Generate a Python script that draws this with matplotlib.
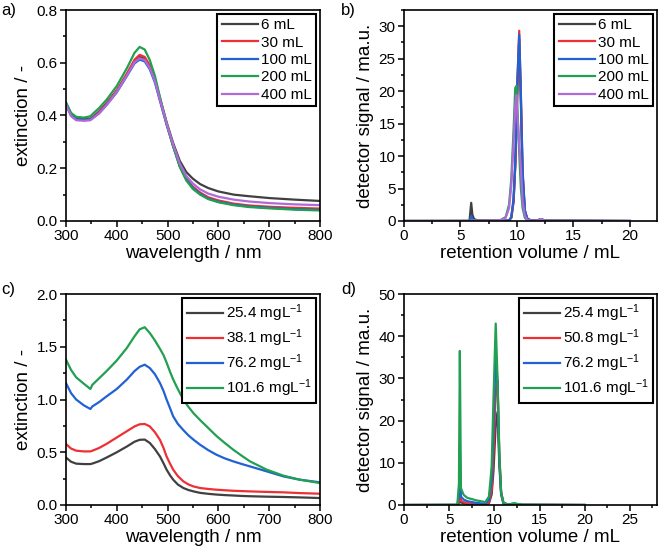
import matplotlib
matplotlib.use("Agg")
import matplotlib.pyplot as plt
from matplotlib.ticker import MultipleLocator

plt.rcParams['font.family'] = ['Liberation Sans', 'DejaVu Sans']
plt.rcParams['mathtext.default'] = 'regular'

colors = ['#404040', '#ee3035', '#2062d4', '#20a050', '#b06ad8']

# a) extinction spectra, different volumes
labels_a = ['6 mL', '30 mL', '100 mL', '200 mL', '400 mL']
wl_a = [300, 310, 320, 335, 348, 352, 365, 380, 400, 420, 435, 445, 455, 465, 475,
        485, 498, 511, 524, 537, 550, 564, 580, 600, 630, 660, 700, 750, 800]
ext_6 = [0.445, 0.405, 0.39, 0.386, 0.388, 0.393, 0.415, 0.447, 0.495, 0.555, 0.605, 0.622, 0.615, 0.585, 0.535,
         0.465, 0.375, 0.295, 0.228, 0.185, 0.16, 0.14, 0.125, 0.112, 0.1, 0.094, 0.087, 0.081, 0.076]
ext_30 = [0.445, 0.40, 0.385, 0.383, 0.386, 0.392, 0.412, 0.445, 0.495, 0.56, 0.612, 0.63, 0.622, 0.59, 0.535,
          0.46, 0.368, 0.285, 0.21, 0.16, 0.13, 0.108, 0.09, 0.078, 0.066, 0.059, 0.054, 0.05, 0.047]
ext_100 = [0.44, 0.40, 0.385, 0.383, 0.385, 0.39, 0.408, 0.44, 0.488, 0.55, 0.598, 0.612, 0.605, 0.575, 0.525,
           0.455, 0.365, 0.283, 0.208, 0.157, 0.125, 0.103, 0.085, 0.073, 0.062, 0.055, 0.05, 0.045, 0.042]
ext_200 = [0.45, 0.41, 0.395, 0.392, 0.397, 0.405, 0.428, 0.46, 0.512, 0.58, 0.638, 0.66, 0.65, 0.61, 0.55,
           0.47, 0.37, 0.282, 0.205, 0.153, 0.121, 0.1, 0.083, 0.071, 0.06, 0.053, 0.048, 0.043, 0.04]
ext_400 = [0.44, 0.398, 0.382, 0.38, 0.382, 0.388, 0.408, 0.44, 0.49, 0.552, 0.602, 0.617, 0.61, 0.58, 0.53,
           0.46, 0.37, 0.29, 0.218, 0.17, 0.142, 0.12, 0.104, 0.092, 0.081, 0.074, 0.068, 0.063, 0.06]

# b) chromatograms, different volumes
vol_b = [0, 5.8, 5.95, 6.05, 6.2, 6.5, 8.5, 9.0, 9.3, 9.5, 9.7, 9.85, 9.95, 10.05, 10.2, 10.35,
         10.5, 10.7, 10.9, 11.2, 11.8, 12.1, 12.5, 20]
sig_6 = [0, 0.02, 2.8, 1.0, 0.3, 0.1, 0.05, 0.05, 0.1, 0.5, 3.0, 8.5, 14.0, 21.0, 28.0, 18.0,
         7.0, 1.5, 0.4, 0.1, 0.05, 0.3, 0.05, 0]
sig_30 = [0, 0, 0.1, 0.1, 0.05, 0.05, 0.03, 0.05, 0.1, 0.5, 3.0, 8.5, 14.5, 22.0, 29.3, 19.0,
          7.5, 1.6, 0.4, 0.1, 0.05, 0.3, 0.05, 0]
sig_100 = [0, 0, 0.8, 0.3, 0.1, 0.05, 0.03, 0.05, 0.1, 0.6, 3.5, 9.0, 15.0, 22.0, 28.7, 19.5,
           7.8, 1.7, 0.4, 0.1, 0.05, 0.3, 0.05, 0]
sig_200 = [0, 0, 0.05, 0.05, 0.05, 0.05, 0.1, 0.6, 2.5, 6.5, 14.0, 20.5, 20.8, 17.0, 10.5, 5.0,
           2.0, 0.5, 0.15, 0.05, 0.05, 0.3, 0.05, 0]
sig_400 = [0, 0, 0.05, 0.05, 0.05, 0.05, 0.1, 0.5, 2.0, 5.5, 12.0, 18.0, 19.4, 16.0, 12.0, 8.0,
           3.0, 0.8, 0.2, 0.05, 0.05, 0.3, 0.05, 0]

# c) extinction spectra, different concentrations
labels_c = ['25.4 mgL$^{-1}$', '38.1 mgL$^{-1}$', '76.2 mgL$^{-1}$', '101.6 mgL$^{-1}$']
wl_c = [300, 310, 320, 335, 348, 352, 365, 380, 400, 420, 435, 445, 455, 465, 475,
        485, 492, 498, 505, 511, 520, 531, 541, 551, 564, 580, 596, 612, 629, 645,
        662, 695, 728, 760, 800]
ext_25 = [0.45, 0.41, 0.392, 0.388, 0.388, 0.393, 0.415, 0.45, 0.5, 0.555, 0.6, 0.618, 0.62, 0.588, 0.53,
          0.46, 0.395, 0.335, 0.28, 0.24, 0.195, 0.161, 0.142, 0.129, 0.115, 0.106, 0.099, 0.094, 0.09, 0.086,
          0.083, 0.079, 0.076, 0.072, 0.066]
ext_38 = [0.578, 0.535, 0.515, 0.508, 0.508, 0.515, 0.54, 0.58, 0.64, 0.7, 0.745, 0.765, 0.768, 0.745, 0.69,
          0.617, 0.54, 0.46, 0.39, 0.335, 0.275, 0.224, 0.195, 0.176, 0.161, 0.152, 0.145, 0.14, 0.135, 0.132,
          0.129, 0.124, 0.12, 0.113, 0.107]
ext_76 = [1.155, 1.06, 1.0, 0.945, 0.91, 0.935, 0.975, 1.03, 1.1, 1.19, 1.27, 1.31, 1.33, 1.298, 1.24,
          1.156, 1.08, 1.0, 0.915, 0.84, 0.77, 0.71, 0.66, 0.619, 0.571, 0.52, 0.477, 0.443, 0.414, 0.39,
          0.366, 0.319, 0.271, 0.24, 0.215]
ext_101 = [1.378, 1.28, 1.21, 1.15, 1.1, 1.14, 1.2, 1.27, 1.37, 1.49, 1.6, 1.665, 1.685, 1.63, 1.56,
           1.48, 1.42, 1.35, 1.26, 1.19, 1.1, 1.0, 0.93, 0.87, 0.805, 0.73, 0.655, 0.59, 0.525, 0.47,
           0.414, 0.335, 0.278, 0.24, 0.208]

# d) chromatograms, different concentrations
labels_d = ['25.4 mgL$^{-1}$', '50.8 mgL$^{-1}$', '76.2 mgL$^{-1}$', '101.6 mgL$^{-1}$']
vol_d = [0, 5.9, 6.08, 6.18, 6.3, 6.6, 7.0, 8.0, 9.0, 9.4, 9.7, 9.9, 10.15, 10.35, 10.55,
         10.75, 11.0, 11.5, 12.2, 13.0, 20.0]
sig_25 = [0, 0.01, 0.4, 2.0, 0.6, 0.4, 0.25, 0.12, 0.1, 0.4, 2.5, 8.0, 19.0, 22.0, 9.5,
          2.5, 0.4, 0.1, 0.25, 0.05, 0]
sig_50 = [0, 0.02, 0.6, 4.2, 1.0, 0.7, 0.4, 0.2, 0.15, 0.6, 3.5, 12.0, 27.0, 29.5, 12.0,
          3.0, 0.5, 0.1, 0.3, 0.05, 0]
sig_76 = [0, 0.03, 2.0, 14.0, 2.0, 1.3, 0.9, 0.5, 0.3, 1.2, 6.0, 18.0, 36.0, 29.0, 11.0,
          2.8, 0.5, 0.1, 0.35, 0.05, 0]
sig_101 = [0, 0.05, 5.0, 36.5, 4.0, 2.4, 1.7, 1.1, 0.7, 2.0, 9.0, 25.0, 43.0, 30.0, 12.0,
           3.0, 0.6, 0.1, 0.4, 0.05, 0]

W, H = 661, 552
fig = plt.figure(figsize=(W / 100, H / 100), dpi=100)


def px_axes(left, top, right, bottom):
    return fig.add_axes([left / W, 1 - bottom / H, (right - left) / W, (bottom - top) / H])


def style(ax, xlabel, ylabel):
    for s in ax.spines.values():
        s.set_linewidth(1.2)
    ax.tick_params(which='both', direction='out', width=1.1, labelsize=11, pad=2,
                   top=False, right=False)
    ax.tick_params(which='major', length=4)
    ax.tick_params(which='minor', length=2.5)
    ax.set_xlabel(xlabel, fontsize=13.5, labelpad=1)
    ax.set_ylabel(ylabel, fontsize=13.5, labelpad=3)


def legend(ax):
    leg = ax.legend(loc='upper right', fontsize=11, handlelength=2.4, handletextpad=0.15,
                    labelspacing=0.22, borderpad=0.3, borderaxespad=0.25, fancybox=False,
                    framealpha=1, edgecolor='black')
    leg.get_frame().set_linewidth(1.5)


lw = 1.6

ax = px_axes(66, 10, 320, 221)
for y, lab, c in zip([ext_6, ext_30, ext_100, ext_200, ext_400], labels_a, colors):
    ax.plot(wl_a, y, color=c, lw=lw, label=lab)
ax.set_xlim(300, 800)
ax.set_ylim(0, 0.8)
ax.xaxis.set_major_locator(MultipleLocator(100))
ax.xaxis.set_minor_locator(MultipleLocator(50))
ax.yaxis.set_major_locator(MultipleLocator(0.2))
ax.yaxis.set_minor_locator(MultipleLocator(0.1))
ax.yaxis.set_major_formatter(lambda v, p: f'{v:.1f}')
style(ax, 'wavelength / nm', 'extinction / -')
legend(ax)

ax = px_axes(404, 10, 657, 221)
for y, lab, c in zip([sig_6, sig_30, sig_100, sig_200, sig_400], labels_a, colors):
    ax.plot(vol_b, y, color=c, lw=lw, label=lab)
ax.set_xlim(0, 22.4)
ax.set_ylim(0, 32.5)
ax.xaxis.set_major_locator(MultipleLocator(5))
ax.xaxis.set_minor_locator(MultipleLocator(2.5))
ax.yaxis.set_major_locator(MultipleLocator(5))
ax.yaxis.set_minor_locator(MultipleLocator(2.5))
style(ax, 'retention volume / mL', 'detector signal / ma.u.')
legend(ax)

ax = px_axes(66, 294, 320, 505)
for y, lab, c in zip([ext_25, ext_38, ext_76, ext_101], labels_c, colors):
    ax.plot(wl_c, y, color=c, lw=lw, label=lab)
ax.set_xlim(300, 800)
ax.set_ylim(0, 2.0)
ax.xaxis.set_major_locator(MultipleLocator(100))
ax.xaxis.set_minor_locator(MultipleLocator(50))
ax.yaxis.set_major_locator(MultipleLocator(0.5))
ax.yaxis.set_minor_locator(MultipleLocator(0.25))
ax.yaxis.set_major_formatter(lambda v, p: f'{v:.1f}')
style(ax, 'wavelength / nm', 'extinction / -')
legend(ax)

ax = px_axes(404, 294, 657, 505)
for y, lab, c in zip([sig_25, sig_50, sig_76, sig_101], labels_d, colors):
    ax.plot(vol_d, y, color=c, lw=lw, label=lab)
ax.set_xlim(0, 28)
ax.set_ylim(0, 50)
ax.xaxis.set_major_locator(MultipleLocator(5))
ax.xaxis.set_minor_locator(MultipleLocator(2.5))
ax.yaxis.set_major_locator(MultipleLocator(10))
ax.yaxis.set_minor_locator(MultipleLocator(5))
style(ax, 'retention volume / mL', 'detector signal / ma.u.')
legend(ax)

for x, y, t in [(1, 3, 'a)'), (341, 3, 'b)'), (1, 282, 'c)'), (341, 282, 'd)')]:
    fig.text(x / W, 1 - y / H, t, fontsize=12, va='top', ha='left')

fig.savefig('out.png', dpi=100)
